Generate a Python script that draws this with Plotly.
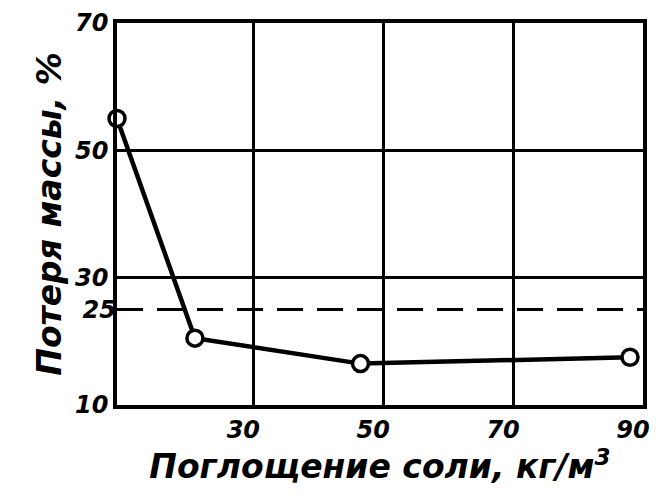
import plotly.graph_objects as go

# Data
salt_uptake = [9, 21, 46.5, 88]          # kg/m^3
mass_loss = [55, 20.5, 16.5, 17.5]       # %
x_ticks = [30, 50, 70, 90]
y_ticks = [10, 30, 50, 70]
y_dashed = [25]

FONT = "DejaVu Sans"
TICKFONT = dict(size=24, family=FONT, style="italic", weight="bold")
TITLEFONT = dict(size=33, family=FONT, style="italic", weight="bold")

fig = go.Figure()
fig.add_trace(go.Scatter(
    x=salt_uptake, y=mass_loss, mode="lines+markers",
    line=dict(color="black", width=4.5),
    marker=dict(symbol="circle", size=16, color="white",
                line=dict(color="black", width=3.5)),
    cliponaxis=False, showlegend=False,
))
fig.add_trace(go.Scatter(x=[None], y=[None], yaxis="y2", showlegend=False))

fig.update_layout(
    width=657, height=497,
    margin=dict(l=117, r=14, t=23, b=92),
    paper_bgcolor="white", plot_bgcolor="white",
    font=dict(family=FONT, color="black"),
    xaxis=dict(
        range=[9, 90], tickvals=x_ticks, ticktext=[str(v) for v in x_ticks],
        showgrid=True, gridcolor="black", gridwidth=3,
        showline=True, linecolor="black", linewidth=3.5, mirror=True,
        ticks="", zeroline=False, automargin=False,
        ticklabelshift=-10, ticklabeloverflow="allow",
        tickfont=TICKFONT,
        title=dict(text="Поглощение соли, кг/м<sup>3</sup>",
                   font=TITLEFONT, standoff=2),
    ),
    yaxis=dict(
        range=[10, 70], tickvals=y_ticks, ticktext=[str(v) for v in y_ticks],
        showgrid=True, gridcolor="black", gridwidth=3,
        showline=True, linecolor="black", linewidth=3.5, mirror=True,
        ticks="", zeroline=False, automargin=False,
        ticklabeloverflow="allow",
        tickfont=TICKFONT,
        title=dict(text="Потеря массы, %", font=TITLEFONT, standoff=4),
    ),
    yaxis2=dict(
        overlaying="y", matches="y", side="left",
        tickvals=y_dashed, ticktext=[str(v) for v in y_dashed],
        showgrid=True, gridcolor="black", gridwidth=3, griddash="26px,14px",
        showline=False, ticks="", zeroline=False, automargin=False,
        tickfont=TICKFONT,
    ),
)

fig.write_html("out.html", config={"displayModeBar": False},
               post_script="document.body.style.margin='0';document.body.style.overflow='hidden';")
